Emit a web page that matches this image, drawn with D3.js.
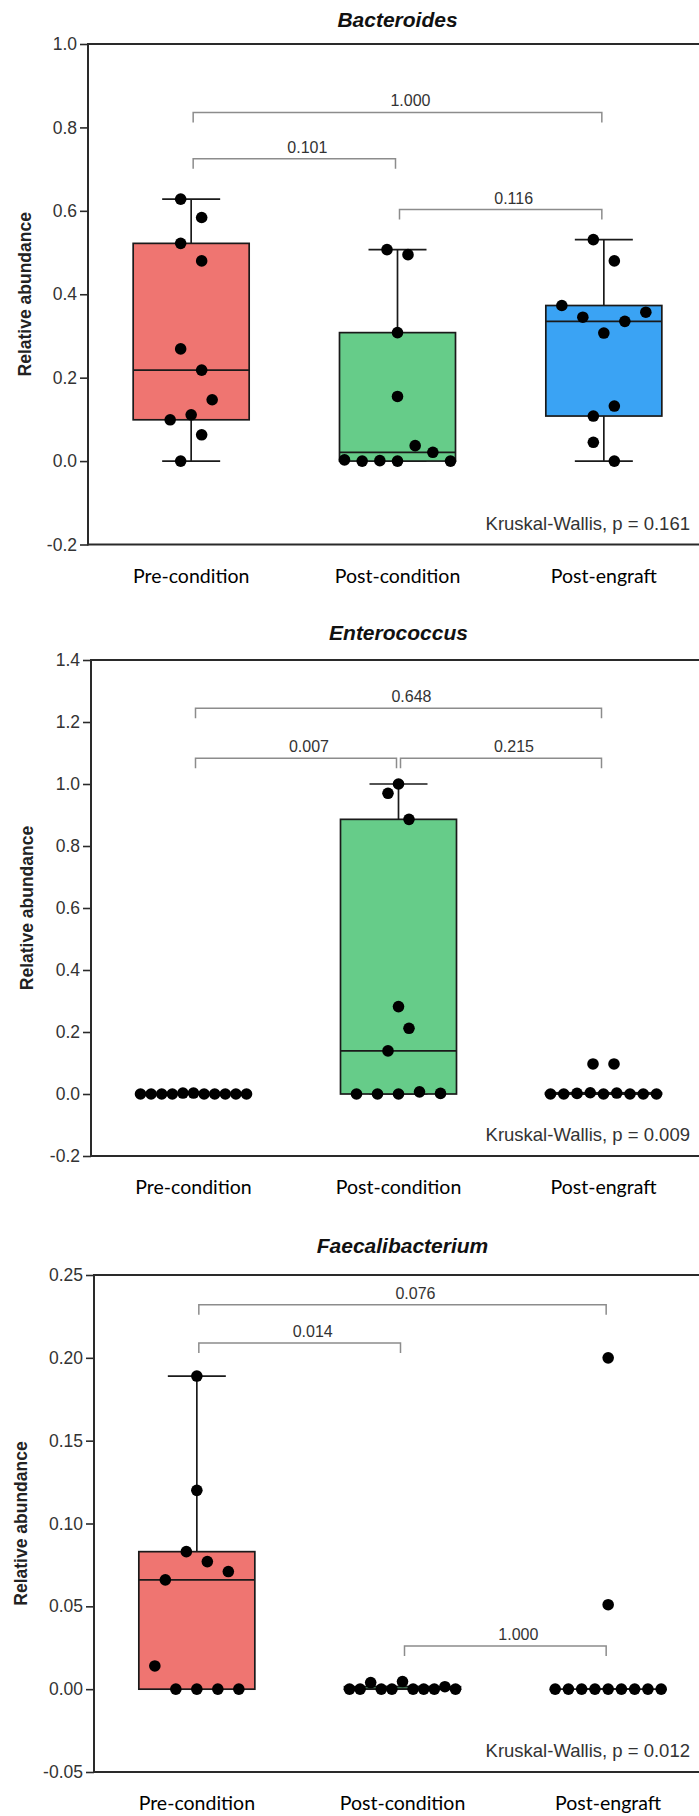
<!DOCTYPE html>
<html>
<head>
<meta charset="utf-8">
<script src="https://cdn.jsdelivr.net/npm/d3@7"></script>
<style>
  body { margin: 0; background: #fff; }
  svg { display: block; }
</style>
</head>
<body>
<div id="chart"></div>
<script>
'use strict';

// ---- data -------------------------------------------------------------
const groups = ['Pre-condition', 'Post-condition', 'Post-engraft'];

// Bacteroides, relative abundance per sample
const bactPre = [0.099, 0.111, 0.269, 0.522, 0.628, 0.480, 0.0, 0.147, 0.218, 0.584, 0.063];
const bactPost = [0.003, 0.0, 0.001, 0.0, 0.308, 0.155, 0.507, 0.495, 0.037, 0.021, 0.0];
const bactEngraft = [0.373, 0.345, 0.045, 0.108, 0.307, 0.531, 0.480, 0.0, 0.132, 0.335, 0.357];
const bactTicks = [-0.2, 0.0, 0.2, 0.4, 0.6, 0.8, 1.0];
const bactPairs = [
    { from: 0, to: 2, at: 0.836, p: '1.000' },
    { from: 0, to: 1, at: 0.725, p: '0.101' },
    { from: 1, to: 2, at: 0.603, p: '0.116' }
];
const bactKruskal = 'Kruskal-Wallis, p = 0.161';

// Enterococcus
const enteroPre = [0.0, 0.0, 0.0, 0.0, 0.003, 0.003, 0.0, 0.0, 0.0, 0.0, 0.0];
const enteroPost = [0.139, 1.0, 0.0, 0.212, 0.0, 0.970, 0.0, 0.282, 0.886, 0.007, 0.002];
const enteroEngraft = [0.0, 0.097, 0.0, 0.002, 0.004, 0.097, 0.0, 0.003, 0.0, 0.0, 0.0];
const enteroTicks = [-0.2, 0.0, 0.2, 0.4, 0.6, 0.8, 1.0, 1.2, 1.4];
const enteroPairs = [
    { from: 0, to: 2, at: 1.244, p: '0.648' },
    { from: 0, to: 1, at: 1.083, p: '0.007' },
    { from: 1, to: 2, at: 1.083, p: '0.215' }
];
const enteroKruskal = 'Kruskal-Wallis, p = 0.009';

// Faecalibacterium
const faecPre = [0.014, 0.066, 0.0, 0.189, 0.120, 0.083, 0.077, 0.0, 0.071, 0.0, 0.0];
const faecPost = [0.0, 0.0, 0.004, 0.0, 0.0, 0.0046, 0.0, 0.0, 0.0, 0.0015, 0.0];
const faecEngraft = [0.0, 0.0, 0.0, 0.0, 0.2, 0.051, 0.0, 0.0, 0.0, 0.0, 0.0];
const faecTicks = [-0.05, 0.0, 0.05, 0.10, 0.15, 0.20, 0.25];
const faecPairs = [
    { from: 0, to: 2, at: 0.232, p: '0.076' },
    { from: 0, to: 1, at: 0.209, p: '0.014' },
    { from: 1, to: 2, at: 0.026, p: '1.000' }
];
const faecKruskal = 'Kruskal-Wallis, p = 0.012';

const colors = ['#ef7571', '#66cc89', '#3aa3f4'];

// ---- layout -----------------------------------------------------------
const width = 699,
      height = 1816,
      boxWidth = 116,
      capWidth = 58,
      dotR = 5.8,
      fontMain = "'Liberation Sans', Arial, sans-serif",
      fontCat = "Lato, 'Open Sans', sans-serif";

const panels = [
    { title: 'Bacteroides', series: [bactPre, bactPost, bactEngraft], ticks: bactTicks, fmt: '.1f',
      pairs: bactPairs, kruskal: bactKruskal,
      top: 44, bottom: 544.5, left: 88, right: 707, titleY: 27, ylabX: 31 },
    { title: 'Enterococcus', series: [enteroPre, enteroPost, enteroEngraft], ticks: enteroTicks, fmt: '.1f',
      pairs: enteroPairs, kruskal: enteroKruskal,
      top: 660, bottom: 1156, left: 91, right: 706, titleY: 639.5, ylabX: 33 },
    { title: 'Faecalibacterium', series: [faecPre, faecPost, faecEngraft], ticks: faecTicks, fmt: '.2f',
      pairs: faecPairs, kruskal: faecKruskal,
      top: 1275, bottom: 1772, left: 94, right: 711, titleY: 1252.7, ylabX: 27 }
];

const svg = d3.select('#chart').append('svg')
    .attr('width', width)
    .attr('height', height)
    .style('background', '#fff');

// quartiles the way the original software computes them ((n+1)p positions)
function quantile6(sorted, p) {
    const n = sorted.length, h = (n + 1) * p;
    if (h <= 1) return sorted[0];
    if (h >= n) return sorted[n - 1];
    const lo = Math.floor(h);
    return sorted[lo - 1] + (h - lo) * (sorted[lo] - sorted[lo - 1]);
}

function boxStats(values) {
    const s = values.slice().sort(d3.ascending);
    const q1 = quantile6(s, 0.25), q3 = quantile6(s, 0.75), iqr = q3 - q1;
    return {
        q1: q1,
        med: d3.median(s),
        q3: q3,
        lo: d3.min(s.filter(v => v >= q1 - 1.5 * iqr)),
        hi: d3.max(s.filter(v => v <= q3 + 1.5 * iqr))
    };
}

// spread dots sideways: values close in pixel space share a row
function swarm(values, y) {
    const spread = 106, step = 21, rowGap = 30;
    const order = values.map((v, i) => i).sort((a, b) => values[a] - values[b]);
    let rows = [], row = null;
    order.forEach(i => {
        if (!row || y(row.start) - y(values[i]) > rowGap) {
            row = { start: values[i], members: [] };
            rows.push(row);
        }
        row.members.push(i);
    });
    const dx = new Array(values.length);
    rows.forEach(r => {
        r.members.sort((a, b) => a - b);
        const k = r.members.length;
        const s = k > 1 ? Math.min(step, spread / (k - 1)) : 0;
        r.members.forEach((i, j) => { dx[i] = (j - (k - 1) / 2) * s; });
    });
    return dx;
}

panels.forEach(drawPanel);

function drawPanel(cfg) {
    const g = svg.append('g');

    const x = d3.scaleBand().domain(groups).range([cfg.left, cfg.right]);
    const cx = d => x(d) + x.bandwidth() / 2;
    const y = d3.scaleLinear()
        .domain([cfg.ticks[0], cfg.ticks[cfg.ticks.length - 1]])
        .range([cfg.bottom, cfg.top]);
    const fmt = d3.format(cfg.fmt);

    // title
    g.append('text')
        .text(cfg.title)
        .attr('x', (cfg.left + cfg.right) / 2)
        .attr('y', cfg.titleY)
        .attr('text-anchor', 'middle')
        .style('font-family', fontMain)
        .style('font-weight', 'bold')
        .style('font-style', 'italic')
        .style('font-size', '21px')
        .style('fill', '#111');

    // y axis
    const axis = g.append('g')
        .attr('transform', 'translate(' + cfg.left + ',0)')
        .call(d3.axisLeft(y)
            .tickValues(cfg.ticks)
            .tickSize(8)
            .tickPadding(3)
            .tickFormat(d => fmt(d).replace('\u2212', '-')));
    axis.select('.domain').remove();
    axis.selectAll('.tick line').attr('stroke', '#2a2a2a').attr('stroke-width', 1.6);
    axis.selectAll('.tick text')
        .style('font-family', fontMain)
        .style('font-size', '17.5px')
        .style('fill', '#333');

    // frame (right edge runs off the picture)
    const frame = g.append('g').attr('stroke', '#2a2a2a').attr('stroke-width', 2).attr('fill', 'none');
    frame.append('line').attr('x1', cfg.left).attr('x2', cfg.left).attr('y1', cfg.top - 1).attr('y2', cfg.bottom + 1);
    frame.append('line').attr('x1', cfg.left).attr('x2', width + 10).attr('y1', cfg.top).attr('y2', cfg.top);
    frame.append('line').attr('x1', cfg.left).attr('x2', width + 10).attr('y1', cfg.bottom).attr('y2', cfg.bottom);

    // y label
    g.append('text')
        .text('Relative abundance')
        .attr('transform', 'translate(' + cfg.ylabX + ',' + ((cfg.top + cfg.bottom) / 2) + ') rotate(-90)')
        .attr('text-anchor', 'middle')
        .style('font-family', fontMain)
        .style('font-weight', 'bold')
        .style('font-size', '17.5px')
        .style('fill', '#222');

    // category labels
    g.selectAll('.cat')
        .data(groups)
        .enter()
        .append('text')
        .attr('class', 'cat')
        .text(d => d)
        .attr('x', d => cx(d))
        .attr('y', cfg.bottom + 38)
        .attr('text-anchor', 'middle')
        .style('font-family', fontCat)
        .style('font-size', '19.5px')
        .style('fill', '#000');

    // boxes
    cfg.series.forEach((values, i) => {
        const c = cx(groups[i]);
        const st = boxStats(values);
        const box = g.append('g').attr('stroke', '#1a1a1a').attr('stroke-width', 1.7);

        box.append('line').attr('x1', c).attr('x2', c).attr('y1', y(st.q3)).attr('y2', y(st.hi));
        box.append('line').attr('x1', c).attr('x2', c).attr('y1', y(st.q1)).attr('y2', y(st.lo));
        box.append('line').attr('x1', c - capWidth / 2).attr('x2', c + capWidth / 2).attr('y1', y(st.hi)).attr('y2', y(st.hi));
        box.append('line').attr('x1', c - capWidth / 2).attr('x2', c + capWidth / 2).attr('y1', y(st.lo)).attr('y2', y(st.lo));

        box.append('rect')
            .attr('x', c - boxWidth / 2)
            .attr('width', boxWidth)
            .attr('y', y(st.q3))
            .attr('height', y(st.q1) - y(st.q3))
            .attr('fill', colors[i]);
        box.append('line')
            .attr('x1', c - boxWidth / 2).attr('x2', c + boxWidth / 2)
            .attr('y1', y(st.med)).attr('y2', y(st.med));

        const dx = swarm(values, y);
        g.append('g').selectAll('circle')
            .data(values)
            .enter()
            .append('circle')
            .attr('cx', (d, j) => c + dx[j])
            .attr('cy', d => y(d))
            .attr('r', dotR)
            .attr('fill', '#000');
    });

    // pairwise brackets
    const pairs = g.append('g');
    cfg.pairs.forEach(d => {
        const x1 = cx(groups[d.from]) + 2,
              x2 = cx(groups[d.to]) - 2,
              yy = y(d.at);
        pairs.append('path')
            .attr('d', 'M' + x1 + ',' + (yy + 10) + 'V' + yy + 'H' + x2 + 'V' + (yy + 10))
            .attr('fill', 'none')
            .attr('stroke', '#8c8c8c')
            .attr('stroke-width', 1.5);
        pairs.append('text')
            .text(d.p)
            .attr('x', (x1 + x2) / 2 + 13)
            .attr('y', yy - 6)
            .attr('text-anchor', 'middle')
            .style('font-family', fontMain)
            .style('font-size', '16px')
            .style('fill', '#333');
    });

    // overall test
    g.append('text')
        .text(cfg.kruskal)
        .attr('x', 690)
        .attr('y', cfg.bottom - 15)
        .attr('text-anchor', 'end')
        .style('font-family', fontMain)
        .style('font-size', '18.5px')
        .style('fill', '#333');
}
</script>
</body>
</html>
